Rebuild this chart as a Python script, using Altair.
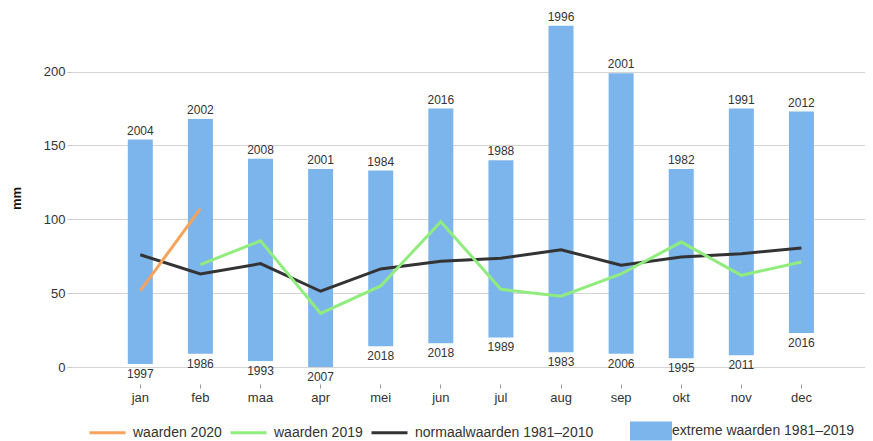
import altair as alt
import pandas as pd

months = ["jan", "feb", "maa", "apr", "mei", "jun", "jul", "aug", "sep", "okt", "nov", "dec"]

ext_max = [154, 168, 141, 134, 133, 175, 140, 231, 199, 134, 175, 173]
ext_max_year = ["2004", "2002", "2008", "2001", "1984", "2016", "1988", "1996", "2001", "1982", "1991", "2012"]
ext_min = [2, 9, 4, 0, 14, 16, 20, 10, 9, 6, 8, 23]
ext_min_year = ["1997", "1986", "1993", "2007", "2018", "2018", "1989", "1983", "2006", "1995", "2011", "2016"]

normaal = [76, 63, 70, 51.3, 66.4, 71.6, 73.6, 79.4, 68.9, 74.5, 76.7, 80.6]
waarden_2019 = [None, 69.3, 85.5, 36.3, 54.9, 98.4, 52.6, 47.9, 63, 84.6, 62.1, 71.1]
waarden_2020 = [51.7, 107.2, None, None, None, None, None, None, None, None, None, None]

series_names = ["waarden 2020", "waarden 2019", "normaalwaarden 1981\u20132010"]
series_colors = ["#f7a35c", "#90ed7d", "#333333"]
ext_name = "extreme waarden 1981\u20132019"

bars = pd.DataFrame({
    "maand": months, "max": ext_max, "min": ext_min,
    "max_year": ext_max_year, "min_year": ext_min_year, "kind": ext_name,
})

rows = []
for name, vals, order in [(series_names[2], normaal, 0), (series_names[1], waarden_2019, 1), (series_names[0], waarden_2020, 2)]:
    for m, v in zip(months, vals):
        if v is not None:
            rows.append({"maand": m, "mm": v, "serie": name, "ord": order})
lines = pd.DataFrame(rows)

xscale = alt.Scale(domain=months, paddingInner=0, paddingOuter=0.597, align=0.533)
yscale = alt.Scale(domain=[0, 243.1], nice=False)

x_enc = alt.X("maand:N", scale=xscale, sort=months, title=None,
              axis=alt.Axis(labelAngle=0, domain=False, ticks=True, tickSize=4, tickColor="#999999",
                            offset=17, labelPadding=3, labelFontSize=13, labelColor="#333333"))

bar = alt.Chart(bars).mark_bar(size=25).encode(
    x=x_enc,
    y=alt.Y("max:Q", scale=yscale, title="mm",
            axis=alt.Axis(values=[0, 50, 100, 150, 200], grid=True, gridColor="#d4d4d4", domain=False,
                          tickSize=5, tickColor="#c8c8c8", labelFontSize=13, labelColor="#333333",
                          labelPadding=2, titleFontSize=13, titleFontWeight="bold", titleColor="#111111",
                          titleX=-56, titleY=190, titleAngle=-90, titleBaseline="middle")),
    y2="min:Q",
    fill=alt.Fill("kind:N", scale=alt.Scale(domain=[ext_name], range=["#7cb5ec"]),
                  legend=alt.Legend(orient="none", legendX=558, legendY=402, title=None, padding=0,
                                    symbolType="M-1,-0.452L1,-0.452L1,0.452L-1,0.452Z",
                                    symbolSize=1764, symbolStrokeWidth=0, labelOffset=0,
                                    labelLimit=400, labelFontSize=14, labelColor="#333333")),
)

top_txt = alt.Chart(bars).mark_text(baseline="alphabetic", dy=-5, fontSize=12, color="#333333").encode(
    x=alt.X("maand:N", scale=xscale, sort=months), y=alt.Y("max:Q", scale=yscale), text="max_year:N")
bot_txt = alt.Chart(bars).mark_text(baseline="alphabetic", dy=14, fontSize=12, color="#333333").encode(
    x=alt.X("maand:N", scale=xscale, sort=months), y=alt.Y("min:Q", scale=yscale), text="min_year:N")

line = alt.Chart(lines).mark_line(strokeWidth=3).encode(
    x=alt.X("maand:N", scale=xscale, sort=months),
    y=alt.Y("mm:Q", scale=yscale),
    stroke=alt.Stroke("serie:N", scale=alt.Scale(domain=series_names, range=series_colors),
                      legend=alt.Legend(orient="none", legendX=16, legendY=405, direction="horizontal",
                                        title=None, padding=0, symbolType="stroke", symbolSize=1296,
                                        symbolStrokeWidth=3, labelOffset=6, columnPadding=2,
                                        labelLimit=400, labelFontSize=14, labelColor="#333333")),
    order="ord:Q",
)

chart = alt.layer(bar, top_txt, bot_txt, line).resolve_scale(x="shared").properties(
    width=793, height=359,
    autosize=alt.AutoSizeParams(type="none"),
    padding={"left": 64, "top": 0, "right": 0, "bottom": 74},
).configure(font="Liberation Sans", view=alt.ViewConfig(stroke=None))

chart.save("out.html", embed_options={"renderer": "svg", "actions": False})
